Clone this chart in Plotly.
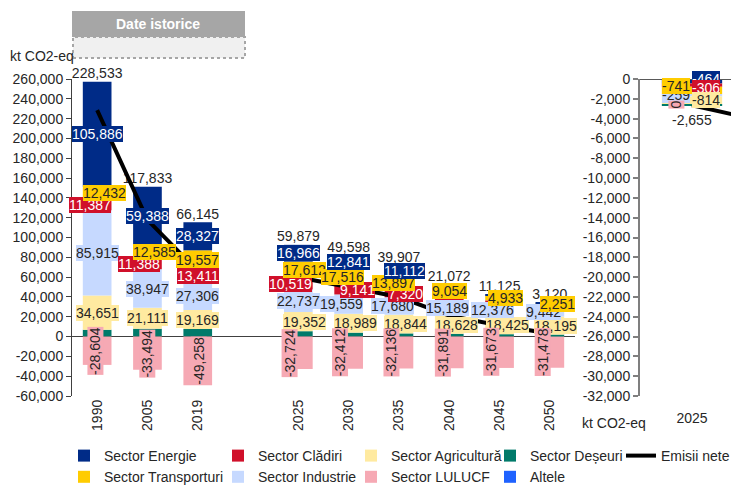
import plotly.graph_objects as go

# ---------------- data (kt CO2-eq) ----------------
years_hist = ["1990", "2005", "2019"]
years_proj = ["2025", "2030", "2035", "2040", "2045", "2050"]
years = years_hist + years_proj

energie = [105886, 59388, 28327, 16966, 12841, 11112, 2092, 1364, 910]
transporturi = [12432, 12585, 19557, 17612, 17516, 13897, 9054, 4933, 2251]
cladiri = [11387, 11388, 13411, 10519, 9141, 7320, 5200, 3300, 1800]
industrie = [85915, 38947, 27306, 22737, 19559, 17680, 15189, 12376, 9442]
agricultura = [34651, 21111, 19169, 19352, 18989, 18844, 18628, 18425, 18195]
deseuri = [6866, 7908, 7633, 5417, 3964, 3190, 2800, 2400, 2000]
lulucf = [-28604, -33494, -49258, -32724, -32412, -32136, -31891, -31673, -31478]
altele = [0, 0, 0, 0, 0, 0, 0, 0, 0]
emisii_nete = [228533, 117833, 66145, 59879, 49598, 39907, 21072, 11125, 3120]

# second panel: differences, 2025 onwards
years_dif = ["2025", "2030"]
dif_energie = [-464]
dif_cladiri = [-306]
dif_transporturi = [-741]
dif_industrie = [-259]
dif_agricultura = [-814]
dif_lulucf = [0]
dif_deseuri = [-71]
dif_nete = [-2655, -5000]

# ---------------- styling ----------------
FONT = "Liberation Sans, Arial, sans-serif"
TXT = "#262626"
C = {
    "Energie": "#002b87",
    "Transporturi": "#ffcc00",
    "Clădiri": "#d0102a",
    "Industrie": "#c6d9ff",
    "Agricultură": "#ffeaa0",
    "LULUCF": "#f6a9b4",
    "Deșeuri": "#007a6a",
    "Altele": "#1f62ff",
}
LABEL_FG = {"Energie": "white", "Clădiri": "white"}
# horizontal nudges (px) of the value labels, one per column
LABEL_NUDGE = {
    "Energie":      [0, 0, 0, 0, 0, 6, 0, 0, 0],
    "Transporturi": [7, 7, 0, 6, -6, -5, 0, 6, 8],
    "Clădiri":      [-7, -8, 0, -8, 9, 7, 0, 0, 0],
    "Industrie":    [0, 0, 0, 0, -7, -6, -2, -7, -6],
    "Agricultură":  [0, 0, 0, 6, 7, 7, 7, 8, 6],
    "LULUCF":       [-2, 0, 1, -9, -9, -7, -6, -8, -7],
}
# segments of the later projection years carry no visible label
LABEL_UNTIL = {"Energie": "2035", "Clădiri": "2035"}

# category positions with one empty slot between history and projections
x_pos = list(range(len(years_hist))) + [len(years_hist) + 1 + i for i in range(len(years_proj))]
x_dif = list(range(len(years_dif)))

# stacking order (bottom -> top) and legend placement (legend id, rank)
series = [
    ("Deșeuri", deseuri, "legend4", 1),
    ("Agricultură", agricultura, "legend3", 1),
    ("Industrie", industrie, "legend2", 2),
    ("Clădiri", cladiri, "legend2", 1),
    ("Transporturi", transporturi, "legend", 2),
    ("Energie", energie, "legend", 1),
    ("LULUCF", lulucf, "legend3", 2),
    ("Altele", altele, "legend4", 2),
]

fig = go.Figure()
annotations = []


def seg_label(x, y, xref, yref, v, name, xshift=0, yshift=0):
    return dict(
        x=x, y=y, xref=xref, yref=yref, text=f"{v:,}", showarrow=False,
        font=dict(family=FONT, size=14, color=LABEL_FG.get(name, TXT)),
        bgcolor=C[name], borderpad=0, borderwidth=0, xshift=xshift, yshift=yshift,
        textangle=-90 if name == "LULUCF" else 0,
    )


pos_base = [0.0] * len(years)
neg_base = [0.0] * len(years)
for name, vals, leg, rank in series:
    fig.add_trace(go.Bar(
        x=x_pos, y=vals, name="Sector " + name if name != "Altele" else name,
        marker=dict(color=C[name], line=dict(width=0)),
        width=0.57, legend=leg, legendrank=rank, hoverinfo="skip",
    ))
    for i, v in enumerate(vals):
        if v >= 0:
            mid = pos_base[i] + v / 2
            pos_base[i] += v
        else:
            mid = neg_base[i] + v / 2
            neg_base[i] += v
        if v == 0 or name in ("Deșeuri", "Altele"):
            continue
        if name in LABEL_UNTIL and int(years[i]) > int(LABEL_UNTIL[name]):
            continue
        annotations.append(seg_label(x_pos[i], mid, "x", "y", v, name, LABEL_NUDGE[name][i]))

# net totals written above each column
fig.add_trace(go.Scatter(
    x=x_pos, y=pos_base, mode="text", text=[f"{v:,}" for v in emisii_nete],
    textposition="top center", textfont=dict(family=FONT, size=14, color=TXT),
    showlegend=False, hoverinfo="skip", cliponaxis=False,
))

# net emissions line, history and projections drawn separately
nh = len(years_hist)
fig.add_trace(go.Scatter(
    x=x_pos[:nh] + [None] + x_pos[nh:],
    y=emisii_nete[:nh] + [None] + emisii_nete[nh:],
    mode="lines", line=dict(color="black", width=4), name="Emisii nete",
    legend="legend5", hoverinfo="skip",
))

# ---------------- second panel ----------------
# stacking order from zero downwards, with label nudges (x, y in px)
dif_series = [
    ("Energie", dif_energie, (14, 2)),
    ("Clădiri", dif_cladiri, (14, -3)),
    ("Transporturi", dif_transporturi, (-16, 4)),
    ("Industrie", dif_industrie, (-16, 0)),
    ("Agricultură", dif_agricultura, (14, 1)),
    ("LULUCF", dif_lulucf, (-16, 0)),
    ("Deșeuri", dif_deseuri, (0, 0)),
]
label_order = ["Energie", "Industrie", "Clădiri", "Transporturi", "Agricultură", "LULUCF"]
dif_labels = {}
base = [0.0] * len(dif_energie)
for name, vals, (sx, sy) in dif_series:
    fig.add_trace(go.Bar(
        x=x_dif[:len(vals)], y=vals, xaxis="x2", yaxis="y2",
        marker=dict(color=C[name], line=dict(width=0)), width=0.58,
        showlegend=False, hoverinfo="skip",
    ))
    for i, v in enumerate(vals):
        mid = base[i] + v / 2
        base[i] += v
        if name != "Deșeuri":
            dif_labels[name] = seg_label(x_dif[i], mid, "x2", "y2", v, name, sx, sy)
annotations += [dif_labels[n] for n in label_order]

annotations.append(dict(
    x=x_dif[0], y=dif_nete[0], xref="x2", yref="y2", text=f"{dif_nete[0]:,}",
    showarrow=False, yanchor="top", yshift=-5,
    font=dict(family=FONT, size=14, color=TXT),
))
fig.add_trace(go.Scatter(
    x=x_dif, y=dif_nete, xaxis="x2", yaxis="y2", mode="lines",
    line=dict(color="black", width=4), showlegend=False, hoverinfo="skip",
))


# ---------------- axes ----------------
def ticks(lo, hi, step):
    vals = list(range(lo, hi + 1, step))
    return vals, [f"{v:,}" for v in vals]


ly_vals, ly_text = ticks(-60000, 260000, 20000)
ry_vals, ry_text = ticks(-32000, 0, 2000)

W = 731 - 72          # paper width in px
TOP, BOTTOM = 79, 396  # plot area top / bottom in px

fig.update_layout(
    width=731, height=485,
    margin=dict(l=72, r=0, t=TOP, b=485 - BOTTOM, autoexpand=False),
    barmode="relative",
    paper_bgcolor="white", plot_bgcolor="white",
    font=dict(family=FONT, size=14, color=TXT),
    xaxis=dict(domain=[0, (575 - 72) / W], range=[-0.5, 9.5],
               tickvals=x_pos, ticktext=years, tickangle=-90,
               showgrid=False, zeroline=False, showline=False, ticks="",
               tickfont=dict(size=14, color=TXT)),
    yaxis=dict(range=[-60000, 260000], tickvals=ly_vals, ticktext=ly_text,
               showgrid=False, showline=True, linecolor="#404040", linewidth=1,
               ticks="outside", ticklen=5, tickcolor="#404040",
               zeroline=True, zerolinecolor="#404040", zerolinewidth=1,
               tickfont=dict(size=14, color=TXT)),
    xaxis2=dict(domain=[(640 - 72) / W, 1], anchor="y2", range=[-0.5, 0.375],
                tickvals=x_dif[:1], ticktext=years_dif[:1],
                showgrid=False, zeroline=False, showline=False, ticks="",
                ticklabelstandoff=12, tickfont=dict(size=14, color=TXT)),
    yaxis2=dict(anchor="x2", range=[-32000, 0], tickvals=ry_vals, ticktext=ry_text,
                showgrid=False, showline=True, linecolor="#7f7f7f", linewidth=2,
                ticks="outside", ticklen=5, tickcolor="#7f7f7f", tickwidth=1.5,
                zeroline=False, tickfont=dict(size=14, color=TXT)),
    annotations=annotations,
    showlegend=True,
)


# unit captions and the header over the historical columns
def px_x(p):
    return (p - 72) / W


def px_y(p):
    return (BOTTOM - p) / (BOTTOM - TOP)


fig.add_annotation(x=px_x(8), y=px_y(56), xref="paper", yref="paper", text="kt CO2-eq",
                   showarrow=False, xanchor="left", yanchor="middle",
                   font=dict(family=FONT, size=14, color=TXT))
fig.add_annotation(x=px_x(580), y=px_y(423), xref="paper", yref="paper", text="kt CO2-eq",
                   showarrow=False, xanchor="left", yanchor="middle",
                   font=dict(family=FONT, size=14, color=TXT))
fig.add_shape(type="rect", xref="paper", yref="paper",
              x0=px_x(72), x1=px_x(245), y0=px_y(37), y1=px_y(11),
              fillcolor="#a6a6a6", line=dict(width=0), layer="below")
fig.add_shape(type="rect", xref="paper", yref="paper",
              x0=px_x(73), x1=px_x(245), y0=px_y(58), y1=px_y(37),
              fillcolor="#f0f0f0", line=dict(color="#a6a6a6", width=2, dash="dot"),
              layer="below")
fig.add_annotation(x=px_x(158), y=px_y(24), xref="paper", yref="paper",
                   text="<b>Date istorice</b>", xanchor="center", yanchor="middle",
                   showarrow=False, font=dict(family=FONT, size=14, color="white"))
fig.add_shape(type="line", xref="x2 domain", yref="y2", x0=0, x1=1, y0=0, y1=0,
              line=dict(color="#595959", width=2))

# legend laid out in five columns, two rows
legend_cols = {"legend": 64, "legend2": 218, "legend3": 351, "legend4": 490, "legend5": 621}
for key, left in legend_cols.items():
    fig.update_layout({key: dict(
        x=px_x(left), y=px_y(440), xanchor="left", yanchor="top",
        orientation="v", bgcolor="rgba(0,0,0,0)", borderwidth=0,
        font=dict(family=FONT, size=14, color=TXT), itemwidth=30,
        tracegroupgap=0,
    )})

fig.write_html("out.html")
